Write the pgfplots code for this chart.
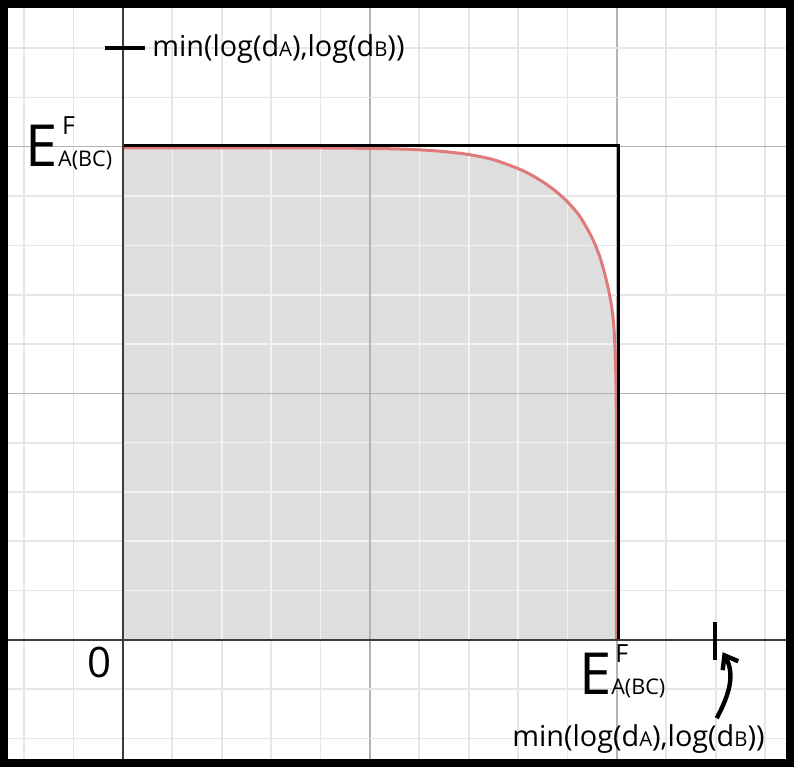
\documentclass[border=0pt]{standalone}
\usepackage{pgfplots}
\pgfplotsset{compat=1.18}
\usepackage{fontspec}
\setmainfont{Open Sans}
\usetikzlibrary{arrows.meta}
\definecolor{fillgray}{HTML}{DEDEDE}
\definecolor{curvered}{HTML}{E07A7A}
\definecolor{majgrid}{HTML}{B4B4B4}
\definecolor{mingrid}{HTML}{E6E6E6}
\definecolor{axdark}{HTML}{3C3C3C}
\newcommand\Elabel{{\fontsize{29pt}{29pt}\selectfont E}\hspace{0pt}\rlap{\hspace{2pt}\raisebox{16pt}{\fontsize{12.5pt}{12.5pt}\selectfont F}}{\fontsize{10.8pt}{10.8pt}\selectfont A(BC)}}
\newcommand\Minlog{{\fontsize{14.4pt}{16pt}\selectfont min(log(d{\fontsize{10.2pt}{10.2pt}\selectfont A}),log(d{\fontsize{10.2pt}{10.2pt}\selectfont B}))}}
\begin{document}
\begin{tikzpicture}
\begin{axis}[
  name=ax,
  x=123.5pt, y=123.25pt,
  xmin=-0.498, xmax=2.717, ymin=-0.515, ymax=2.596,
  axis line style={draw=none},
  xtick={0,1,2}, ytick={0,1,2},
  minor xtick={-0.4,-0.2,0.2,0.4,0.6,0.8,1.2,1.4,1.6,1.8,2.2,2.4,2.6},
  minor ytick={-0.4,-0.2,0.2,0.4,0.6,0.8,1.2,1.4,1.6,1.8,2.2,2.4},
  xticklabels={}, yticklabels={},
  major tick style={draw=none}, minor tick style={draw=none},
  grid=both,
  major grid style={draw=majgrid, line width=0.6pt},
  minor grid style={draw=mingrid, line width=0.9pt},
  unbounded coords=jump,
]
\pgfplotstableread{
x y
0 1.996
0.6 1.996
0.9 1.995
1.1 1.992
1.2 1.988
1.3 1.981
1.4 1.969
1.5 1.948
1.6 1.912
1.65 1.888
1.7 1.858
1.75 1.822
1.8 1.777
1.85 1.718
1.9 1.630
1.93 1.556
1.95 1.488
1.965 1.425
1.977 1.362
1.986 1.290
1.991 1.210
1.995 1.10
1.997 0.97
1.998 0.75
1.998 0
}\curvetable
% shaded region under the curve
\addplot[fill=fillgray, draw=none] table[x=x,y=y] {\curvetable} -- (axis cs:0,0) -- cycle;
% light grid lines inside the shaded region
\addplot[draw=white!95!black, line width=0.8pt] coordinates {
 (0.2,0) (0.2,1.99) (0.2,nan)
 (0.4,0) (0.4,1.99) (0.4,nan)
 (0.6,0) (0.6,1.99) (0.6,nan)
 (0.8,0) (0.8,1.99) (0.8,nan)
 (1.2,0) (1.2,1.982) (1.2,nan)
 (1.4,0) (1.4,1.962) (1.4,nan)
 (1.6,0) (1.6,1.902) (1.6,nan)
 (1.8,0) (1.8,1.765) (1.8,nan)
 (0,0.2) (1.993,0.2) (nan,0.2)
 (0,0.4) (1.993,0.4) (nan,0.4)
 (0,0.6) (1.993,0.6) (nan,0.6)
 (0,0.8) (1.993,0.8) (nan,0.8)
 (0,1.2) (1.987,1.2) (nan,1.2)
 (0,1.4) (1.968,1.4) (nan,1.4)
 (0,1.6) (1.915,1.6) (nan,1.6)
 (0,1.8) (1.775,1.8)
};
\addplot[draw=majgrid, line width=0.6pt] coordinates {(1,0) (1,2) (1,nan) (0,1) (2,1)};
% curve
\addplot[curvered, line width=1.5pt, smooth, tension=0.5] table[x=x,y=y] {\curvetable};
% bounding square
\addplot[black, line width=1.5pt] coordinates {(0,2.005) (2.008,2.005) (2.008,0)};
% axes
\draw[axdark, line width=1pt] (axis cs:0,-0.515) -- (axis cs:0,2.596);
\draw[axdark, line width=1pt] (axis cs:-0.498,0) -- (axis cs:2.717,0);
% legend-like item
\draw[black, line width=2.2pt] (axis cs:-0.073,2.402) -- (axis cs:0.089,2.402);
\node[anchor=base west, inner sep=0pt] at (axis cs:0.117,2.365) {\Minlog};
% labels
\node[anchor=base west, inner sep=0pt] at (axis cs:-0.395,1.919) {\Elabel};
\node[anchor=base west, inner sep=0pt] at (axis cs:1.845,-0.223) {\Elabel};
\node[anchor=base east, inner sep=0pt] at (axis cs:-0.045,-0.154) {\fontsize{21pt}{21pt}\selectfont 0};
\node[anchor=base west, inner sep=0pt] at (axis cs:1.575,-0.434) {\Minlog};
% marker and arrow
\draw[black, line width=2.2pt] (axis cs:2.397,0.073) -- (axis cs:2.397,-0.081);
\draw[black, line width=2.2pt, -{Straight Barb[length=6pt,width=9pt]}] (axis cs:2.404,-0.318) to[out=62,in=-60] (axis cs:2.428,-0.05);
% frame
\draw[black, line width=4pt] ([xshift=2pt,yshift=2pt]rel axis cs:0,0) rectangle ([xshift=-2pt,yshift=-2pt]rel axis cs:1,1);
\end{axis}
\pgfresetboundingbox
\path[use as bounding box] (ax.south west) rectangle (ax.north east);
\end{tikzpicture}
\end{document}
